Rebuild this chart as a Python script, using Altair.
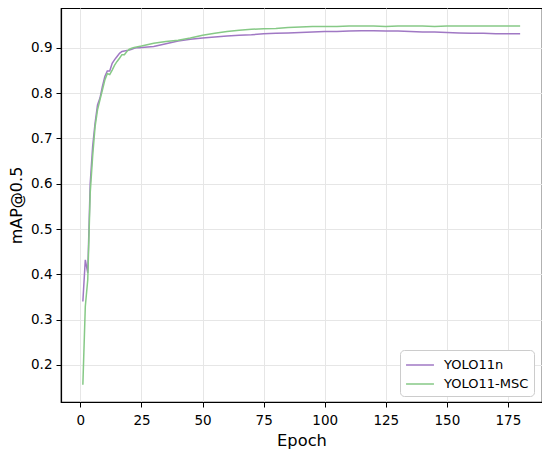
import altair as alt
import pandas as pd

epochs = list(range(1, 26)) + list(range(30, 181, 5))

yolo11n = [0.340, 0.432, 0.403, 0.600, 0.682, 0.734, 0.774, 0.789, 0.815, 0.837,
           0.849, 0.849, 0.866, 0.874, 0.881, 0.888, 0.892, 0.893, 0.894, 0.895,
           0.897, 0.899, 0.900, 0.900, 0.901,
           0.903, 0.909, 0.915, 0.919, 0.922, 0.924, 0.926, 0.928, 0.929, 0.931,
           0.932, 0.933, 0.934, 0.935, 0.936, 0.936, 0.937, 0.938, 0.938, 0.937,
           0.937, 0.936, 0.935, 0.935, 0.934, 0.933, 0.932, 0.932, 0.931, 0.931,
           0.931]

yolo11_msc = [0.156, 0.329, 0.388, 0.579, 0.660, 0.726, 0.763, 0.785, 0.807, 0.829,
              0.843, 0.841, 0.851, 0.862, 0.870, 0.877, 0.885, 0.885, 0.892, 0.897,
              0.899, 0.901, 0.902, 0.903, 0.904,
              0.910, 0.914, 0.917, 0.922, 0.928, 0.932, 0.936, 0.939, 0.941, 0.942,
              0.943, 0.945, 0.946, 0.947, 0.947, 0.947, 0.948, 0.948, 0.948, 0.947,
              0.948, 0.948, 0.948, 0.947, 0.948, 0.948, 0.948, 0.948, 0.948, 0.948,
              0.948]

series_names = ["YOLO11n", "YOLO11-MSC"]
series_colors = ["#a078c4", "#86c986"]
x_ticks = [0, 25, 50, 75, 100, 125, 150, 175]
y_ticks = [0.2, 0.3, 0.4, 0.5, 0.6, 0.7, 0.8, 0.9]

df = pd.concat([
    pd.DataFrame({"Epoch": epochs, "mAP": yolo11n, "Model": series_names[0]}),
    pd.DataFrame({"Epoch": epochs, "mAP": yolo11_msc, "Model": series_names[1]}),
])

font = "DejaVu Sans"

chart = alt.Chart(df).mark_line(strokeWidth=1.5, clip=True).encode(
    x=alt.X("Epoch:Q", title="Epoch",
            scale=alt.Scale(domain=[-7.95, 188.95], nice=False, zero=False),
            axis=alt.Axis(values=x_ticks, format="d", labelPadding=6)),
    y=alt.Y("mAP:Q", title="mAP@0.5",
            scale=alt.Scale(domain=[0.118, 0.988], nice=False, zero=False),
            axis=alt.Axis(values=y_ticks, format=".1f", titlePadding=6,
                          titleFontSize=16)),
    color=alt.Color("Model:N", sort=series_names,
                    scale=alt.Scale(domain=series_names, range=series_colors),
                    legend=alt.Legend(title=None, orient="none", legendX=339, legendY=342,
                                      symbolType="M-1.55,0H1.55", symbolSize=324,
                                      symbolStrokeWidth=1.5, symbolOffset=5,
                                      labelOffset=14, rowPadding=2, padding=5,
                                      labelFontSize=13, labelFont=font, labelColor="black",
                                      strokeColor="#cccccc", cornerRadius=4,
                                      fillColor="white")),
).properties(
    width=481, height=394,
    autosize=alt.AutoSizeParams(type="none"),
    padding={"left": 53, "top": 0, "right": 0, "bottom": 47},
).configure_view(
    stroke="black", strokeWidth=1.2
).configure_axis(
    grid=True, gridColor="#e6e6e6", gridWidth=1,
    domain=True, domainColor="black", domainWidth=1.2,
    ticks=True, tickColor="black", tickSize=5, tickWidth=1,
    labelFont=font, labelFontSize=13.5, labelColor="black", labelPadding=4,
    titleFont=font, titleFontSize=16.3, titleFontWeight="normal", titleColor="black",
    titlePadding=6, labelFlush=False, labelOverlap=False,
)

chart.save("out.html", embed_options={"renderer": "svg", "actions": False})
